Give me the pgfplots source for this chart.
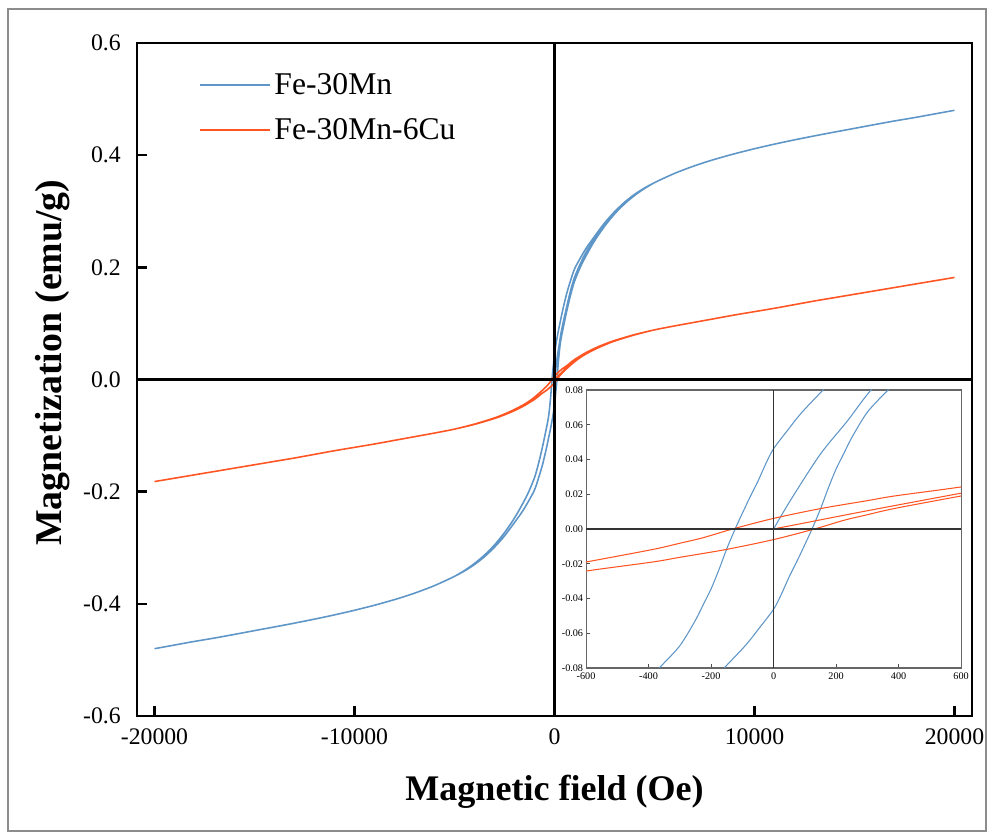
\documentclass[border=0pt]{standalone}
\usepackage{fontspec}
\setmainfont{Liberation Serif}
\usepackage{pgfplots}
\usepackage{pgfplotstable}
\pgfplotsset{compat=1.18}
\definecolor{cblue}{RGB}{95,150,200}
\definecolor{corange}{RGB}{255,85,35}

\pgfplotstableread{
x y
0 0
53 0.0162
149 0.0429
235 0.0619
309 0.0794
400 0.096
600 0.128
800 0.158
1000 0.182
1300 0.207
1600 0.228
2000 0.250
2500 0.2755
3000 0.2965
3500 0.3145
4000 0.329
4500 0.341
5000 0.351
5500 0.3595
6000 0.3675
6500 0.3745
7000 0.381
7500 0.387
8000 0.3925
9000 0.4025
10000 0.4115
11000 0.4197
12000 0.4273
13000 0.4344
14000 0.4412
15000 0.4478
16000 0.4545
17000 0.461
18000 0.467
19000 0.4735
20000 0.480
19000 0.4735
18000 0.467
17000 0.461
16000 0.4545
15000 0.4478
14000 0.4412
13000 0.4344
12000 0.4273
11000 0.4197
10000 0.4115
9000 0.4025
8000 0.3925
7500 0.387
7000 0.381
6500 0.3745
6000 0.3675
5500 0.3595
5000 0.351
4500 0.3415
4000 0.330
3500 0.316
3000 0.299
2500 0.279
2000 0.255
1600 0.235
1300 0.217
1000 0.197
800 0.176
600 0.152
400 0.122
300 0.105
200 0.088
155 0.0794
100 0.069
75 0.0638
50 0.058
0 0.0462
-25 0.0375
-50 0.0275
-75 0.0185
-100 0.009
-123 0
-150 -0.0115
-175 -0.0235
-200 -0.0345
-225 -0.0435
-250 -0.0525
-300 -0.0672
-363 -0.0794
-400 -0.086
-600 -0.120
-800 -0.150
-1000 -0.175
-1300 -0.201
-1600 -0.222
-2000 -0.247
-2500 -0.273
-3000 -0.295
-3500 -0.313
-4000 -0.328
-4500 -0.3405
-5000 -0.351
-5500 -0.3595
-6000 -0.3675
-6500 -0.3745
-7000 -0.381
-7500 -0.387
-8000 -0.3925
-9000 -0.4025
-10000 -0.4115
-11000 -0.4197
-12000 -0.4273
-13000 -0.4344
-14000 -0.4412
-15000 -0.4478
-16000 -0.4545
-17000 -0.461
-18000 -0.467
-19000 -0.4735
-20000 -0.480
-19000 -0.4735
-18000 -0.467
-17000 -0.461
-16000 -0.4545
-15000 -0.4478
-14000 -0.4412
-13000 -0.4344
-12000 -0.4273
-11000 -0.4197
-10000 -0.4115
-9000 -0.4025
-8000 -0.3925
-7500 -0.387
-7000 -0.381
-6500 -0.3745
-6000 -0.3675
-5500 -0.3595
-5000 -0.351
-4500 -0.3415
-4000 -0.330
-3500 -0.316
-3000 -0.299
-2500 -0.279
-2000 -0.255
-1600 -0.235
-1300 -0.217
-1000 -0.197
-800 -0.176
-600 -0.152
-400 -0.122
-300 -0.105
-200 -0.088
-155 -0.0794
-100 -0.069
-75 -0.0638
-50 -0.058
0 -0.0462
25 -0.0375
50 -0.0275
75 -0.0185
100 -0.009
123 0
150 0.0115
175 0.0235
200 0.0345
225 0.0435
250 0.0525
300 0.0672
363 0.0794
400 0.086
600 0.120
800 0.150
1000 0.175
1300 0.201
1600 0.222
2000 0.247
2500 0.273
3000 0.295
3500 0.313
4000 0.328
4500 0.3405
5000 0.351
5500 0.3595
6000 0.3675
6500 0.3745
7000 0.381
7500 0.387
8000 0.3925
9000 0.4025
10000 0.4115
11000 0.4197
12000 0.4273
13000 0.4344
14000 0.4412
15000 0.4478
16000 0.4545
17000 0.461
18000 0.467
19000 0.4735
20000 0.480
}\bluedata

\pgfplotstableread{
x y
0 0
100 0.0035
300 0.0105
600 0.0206
800 0.027
1000 0.033
1200 0.0385
1500 0.0452
2000 0.0545
2500 0.062
3000 0.069
4000 0.0798
5000 0.0885
6000 0.0955
7000 0.102
8000 0.1085
9000 0.115
10000 0.121
11000 0.127
12000 0.1335
13000 0.140
14000 0.146
15000 0.152
16000 0.158
17000 0.164
18000 0.170
19000 0.176
20000 0.182
19000 0.176
18000 0.170
17000 0.164
16000 0.158
15000 0.152
14000 0.146
13000 0.140
12000 0.1335
11000 0.127
10000 0.121
9000 0.115
8000 0.1085
7000 0.102
6000 0.0955
5000 0.0885
4000 0.0800
3000 0.0695
2500 0.063
2000 0.0555
1500 0.0465
1200 0.040
1000 0.0355
800 0.0300
600 0.0242
387 0.019
300 0.0163
152 0.0118
0 0.0061
-131 0
-227 -0.0051
-300 -0.0082
-387 -0.0118
-600 -0.019
-800 -0.0255
-1000 -0.0315
-1200 -0.037
-1500 -0.044
-2000 -0.0535
-2500 -0.0615
-3000 -0.0685
-4000 -0.0795
-5000 -0.0885
-6000 -0.0955
-7000 -0.102
-8000 -0.1085
-9000 -0.115
-10000 -0.121
-11000 -0.127
-12000 -0.1335
-13000 -0.140
-14000 -0.146
-15000 -0.152
-16000 -0.158
-17000 -0.164
-18000 -0.170
-19000 -0.176
-20000 -0.182
-19000 -0.176
-18000 -0.170
-17000 -0.164
-16000 -0.158
-15000 -0.152
-14000 -0.146
-13000 -0.140
-12000 -0.1335
-11000 -0.127
-10000 -0.121
-9000 -0.115
-8000 -0.1085
-7000 -0.102
-6000 -0.0955
-5000 -0.0885
-4000 -0.0800
-3000 -0.0695
-2500 -0.063
-2000 -0.0555
-1500 -0.0465
-1200 -0.040
-1000 -0.0355
-800 -0.0300
-600 -0.0242
-387 -0.019
-300 -0.0163
-152 -0.0118
0 -0.0061
131 0
227 0.0051
300 0.0082
387 0.0118
600 0.019
800 0.0255
1000 0.0315
1200 0.037
1500 0.044
2000 0.0535
2500 0.0615
3000 0.0685
4000 0.0795
5000 0.0885
6000 0.0955
7000 0.102
8000 0.1085
9000 0.115
10000 0.121
11000 0.127
12000 0.1335
13000 0.140
14000 0.146
15000 0.152
16000 0.158
17000 0.164
18000 0.170
19000 0.176
20000 0.182
}\orangedata

\begin{document}
\begin{tikzpicture}
\useasboundingbox (0,0) rectangle (19.88cm,16.8cm);
\draw[black!45, line width=0.6pt] (0.16cm,0.18cm) rectangle (19.72cm,16.62cm);
\begin{axis}[
  at={(2.74cm,2.48cm)}, anchor=south west,
  width=16.7cm, height=13.46cm, scale only axis,
  xmin=-20875, xmax=20875, ymin=-0.6, ymax=0.6,
  xtick={-20000,-10000,0,10000,20000},
  ytick={-0.6,-0.4,-0.2,0,0.2,0.4,0.6},
  scaled x ticks=false, scaled y ticks=false,
  xtick pos=bottom, ytick pos=left,
  tick align=inside,
  major tick length=0.2cm,
  axis line style={line width=1.7pt},
  every tick/.style={black, line width=1.5pt},
  /pgf/number format/assume math mode=true,
  xticklabel style={font=\fontsize{13.5}{16}\selectfont, yshift=-0.14cm, /pgf/number format/set thousands separator={}},
  yticklabel style={font=\fontsize{13.5}{16}\selectfont, xshift=-0.2cm, /pgf/number format/fixed, /pgf/number format/fixed zerofill, /pgf/number format/precision=1},
  xlabel={\textbf{Magnetic field (Oe)}},
  ylabel={\textbf{Magnetization (emu/g)}},
  xlabel style={font=\fontsize{20.5}{24}\selectfont, at={(axis description cs:0.5,-0.113)}, anchor=center},
  ylabel style={font=\fontsize{21.5}{24}\selectfont, at={(axis description cs:-0.1006,0.525)}, anchor=center},
  legend style={at={(0.068,0.966)}, anchor=north west, draw=none, fill=none,
    font=\fontsize{18}{21}\selectfont, row sep=8pt},
  legend cell align=left,
  legend image code/.code={\draw[#1] (0cm,0cm) -- (1.4cm,0cm);},
]
\addplot[cblue, line width=0.9pt, smooth, tension=0.5] table {\bluedata};
\addlegendentry{Fe-30Mn}
\addplot[corange, line width=0.9pt, smooth, tension=0.5] table {\orangedata};
\addlegendentry{Fe-30Mn-6Cu}
\draw[black, line width=1.6pt] (axis cs:0,-0.6) -- (axis cs:0,0.6);
\draw[black, line width=1.6pt] (axis cs:-20875,0) -- (axis cs:20875,0);
\end{axis}
\begin{axis}[
  at={(11.72cm,3.44cm)}, anchor=south west,
  width=7.5cm, height=5.56cm, scale only axis,
  axis background/.style={fill=white},
  xmin=-600, xmax=600, ymin=-0.08, ymax=0.08,
  xtick={-600,-400,-200,0,200,400,600},
  ytick={-0.08,-0.06,-0.04,-0.02,0,0.02,0.04,0.06,0.08},
  scaled x ticks=false, scaled y ticks=false,
  xtick pos=bottom, ytick pos=left,
  tick align=inside,
  major tick length=0.08cm,
  axis line style={black!60, line width=0.6pt},
  every tick/.style={black!70, line width=0.5pt},
  /pgf/number format/assume math mode=true,
  xticklabel style={font=\fontsize{5.8}{7}\selectfont, inner sep=1.5pt, yshift=-1.2pt},
  yticklabel style={font=\fontsize{5.8}{7}\selectfont, inner sep=1.5pt, /pgf/number format/fixed, /pgf/number format/fixed zerofill, /pgf/number format/precision=2},
]
\addplot[cblue, line width=0.6pt, smooth, tension=0.5, forget plot] table {\bluedata};
\addplot[corange, line width=0.6pt, smooth, tension=0.5, forget plot] table {\orangedata};
\draw[black!80, line width=0.6pt] (axis cs:0,-0.08) -- (axis cs:0,0.08);
\draw[black!80, line width=0.6pt] (axis cs:-600,0) -- (axis cs:600,0);
\end{axis}
\end{tikzpicture}
\end{document}
